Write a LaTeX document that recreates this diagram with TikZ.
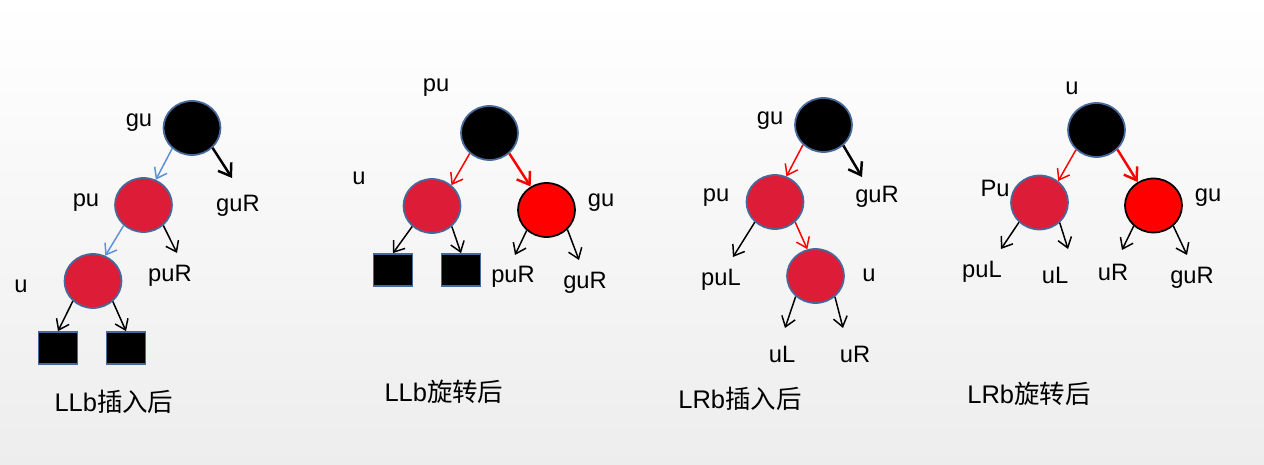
\documentclass[tikz,border=0pt]{standalone}
\usepackage{fontspec}
\setmainfont{Liberation Sans}
\newfontfamily\cjk{Noto Sans CJK SC}
\usetikzlibrary{shapes.geometric, arrows.meta}
\definecolor{nodered}{RGB}{221,28,56}
\definecolor{rimblue}{RGB}{70,105,155}
\definecolor{linkblue}{RGB}{95,145,215}
\tikzstyle{blacknode} = [ellipse, minimum width=1.14cm, minimum height=1.08cm, inner sep=0pt, draw=rimblue, line width=1pt, fill=black]
\tikzstyle{rednode} = [ellipse, minimum width=1.14cm, minimum height=1.08cm, inner sep=0pt, draw=rimblue, line width=1pt, fill=nodered]
\tikzstyle{hotnode} = [ellipse, minimum width=1.14cm, minimum height=1.08cm, inner sep=0pt, draw=black, line width=1pt, fill=red]
\tikzstyle{leaf} = [rectangle, minimum width=0.78cm, minimum height=0.64cm, inner sep=0pt, draw=rimblue, line width=1pt, fill=black]
\tikzstyle{tag} = [inner sep=0pt, font=\fontsize{13.5}{15}\selectfont]
\tikzstyle{caption} = [inner sep=0pt, font=\fontsize{14.5}{16}\selectfont]
\tikzstyle{arrow} = [line width=0.85pt, -{Straight Barb[length=5.5pt,width=8pt]}]
\tikzstyle{thickarrow} = [line width=1.4pt, -{Straight Barb[length=6.5pt,width=9pt]}]

\begin{document}
\begin{tikzpicture}[x=0.02cm, y=-0.02cm]
	\shade[top color=white, bottom color=gray!14] (0,0) rectangle (1264,465);
	\useasboundingbox (0,0) rectangle (1264,465);

	% LLb insert
	\node[blacknode] (t1_gu) at (192,128) {};
	\node[rednode] (t1_pu) at (143.5,205) {};
	\node[rednode] (t1_u) at (93,281) {};
	\node[leaf] (t1_sq1) at (58,348) {};
	\node[leaf] (t1_sq2) at (126,348) {};
	\node[tag] (t1_gu_tag) at (139,123) {gu};
	\node[tag] (t1_pu_tag) at (86,203) {pu};
	\node[tag] (t1_u_tag) at (21,286) {u};
	\node[tag] (t1_guR) at (238,206) {guR};
	\node[tag] (t1_puR) at (170,276) {puR};
	\node[caption] (t1_cap) at (114,402) {LLb\cjk 插入后};
	\coordinate (t1_guR_end) at (232,178);
	\coordinate (t1_puR_end) at (177,253);
	\draw[arrow, linkblue] (t1_gu.226) -- (t1_pu.64);
	\draw[thickarrow] (t1_gu.-44) -- (t1_guR_end);
	\draw[arrow, linkblue] (t1_pu.226) -- (t1_u.64);
	\draw[arrow] (t1_pu.-46) -- (t1_puR_end);
	\draw[arrow] (t1_u.225) -- (t1_sq1.north);
	\draw[arrow] (t1_u.-46) -- (t1_sq2.north);

	% LLb rotate
	\node[blacknode] (t2_pu) at (489.5,133) {};
	\node[rednode] (t2_u) at (432,206) {};
	\node[hotnode] (t2_gu) at (546.5,210) {};
	\node[leaf] (t2_sq1) at (393,270) {};
	\node[leaf] (t2_sq2) at (461,270) {};
	\node[tag] (t2_pu_tag) at (436,88) {pu};
	\node[tag] (t2_u_tag) at (359,178) {u};
	\node[tag] (t2_gu_tag) at (601,203) {gu};
	\node[tag] (t2_puR) at (513,277) {puR};
	\node[tag] (t2_guR) at (585,283) {guR};
	\node[caption] (t2_cap) at (444,392) {LLb\cjk 旋转后};
	\coordinate (t2_puR_end) at (515,255);
	\coordinate (t2_guR_end) at (579,260);
	\draw[arrow, red] (t2_pu.226) -- (t2_u.47);
	\draw[thickarrow, red] (t2_pu.-46) -- (t2_gu.124);
	\draw[arrow] (t2_u.226) -- (t2_sq1.north);
	\draw[arrow] (t2_u.-46) -- (t2_sq2.north);
	\draw[arrow] (t2_gu.226) -- (t2_puR_end);
	\draw[arrow] (t2_gu.-43) -- (t2_guR_end);

	% LRb insert
	\node[blacknode] (t3_gu) at (823.5,125) {};
	\node[rednode] (t3_pu) at (775,202) {};
	\node[rednode] (t3_u) at (815.5,276) {};
	\node[tag] (t3_gu_tag) at (770,121) {gu};
	\node[tag] (t3_pu_tag) at (716,198) {pu};
	\node[tag] (t3_guR) at (877,197) {guR};
	\node[tag] (t3_puL) at (721,280) {puL};
	\node[tag] (t3_u_tag) at (869,275) {u};
	\node[tag] (t3_uL) at (782,354) {uL};
	\node[tag] (t3_uR) at (855,354) {uR};
	\node[caption] (t3_cap) at (740,399) {LRb\cjk 插入后};
	\coordinate (t3_guR_end) at (862,177);
	\coordinate (t3_puL_end) at (733,257);
	\coordinate (t3_uL_end) at (785,328);
	\coordinate (t3_uR_end) at (843,328);
	\draw[arrow, red] (t3_gu.224) -- (t3_pu.66);
	\draw[thickarrow] (t3_gu.-46) -- (t3_guR_end);
	\draw[arrow] (t3_pu.225) -- (t3_puL_end);
	\draw[arrow, red] (t3_pu.-45) -- (t3_u.107);
	\draw[arrow] (t3_u.226) -- (t3_uL_end);
	\draw[arrow] (t3_u.-47) -- (t3_uR_end);

	% LRb rotate
	\node[blacknode] (t4_u) at (1096.5,130) {};
	\node[rednode] (t4_pu) at (1039.5,202.5) {};
	\node[hotnode] (t4_gu) at (1153.5,205.5) {};
	\node[tag] (t4_u_tag) at (1072,88) {u};
	\node[tag] (t4_pu_tag) at (995,188) {Pu};
	\node[tag] (t4_gu_tag) at (1208,198) {gu};
	\node[tag] (t4_puL) at (982,272) {puL};
	\node[tag] (t4_uL) at (1055,275) {uL};
	\node[tag] (t4_uR) at (1113,272) {uR};
	\node[tag] (t4_guR) at (1192,278) {guR};
	\node[caption] (t4_cap) at (1029,394) {LRb\cjk 旋转后};
	\coordinate (t4_puL_end) at (1001,249);
	\coordinate (t4_uL_end) at (1068,249);
	\coordinate (t4_uR_end) at (1122,250);
	\coordinate (t4_guR_end) at (1187,255);
	\draw[arrow, red] (t4_u.224) -- (t4_pu.49);
	\draw[thickarrow, red] (t4_u.-43) -- (t4_gu.124);
	\draw[arrow] (t4_pu.224) -- (t4_puL_end);
	\draw[arrow] (t4_pu.-45) -- (t4_uL_end);
	\draw[arrow] (t4_gu.226) -- (t4_uR_end);
	\draw[arrow] (t4_gu.-46) -- (t4_guR_end);
\end{tikzpicture}
\end{document}
